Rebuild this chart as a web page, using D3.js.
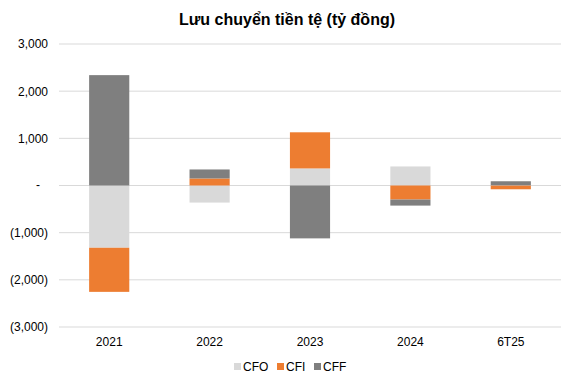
<!DOCTYPE html>
<html><head><meta charset="utf-8">
<script src="https://cdn.jsdelivr.net/npm/d3@7"></script>
<style>body{margin:0;background:#fff;} svg{display:block;font-family:"Liberation Sans",Arial,sans-serif;}</style>
</head><body>
<svg id="c" width="575" height="386"></svg>
<script>
const categories = ["2021","2022","2023","2024","6T25"];
const seriesNames = ["CFO","CFI","CFF"];
const CFO = [-1320, -362, 362, 404, 5];
const CFI = [-935, 149, 766, -298, -80];
const CFF = [2340, 191, -1121, -128, 85];
const yTicks = [-3000,-2000,-1000,0,1000,2000,3000];
const colors = {CFO:"#D9D9D9", CFI:"#ED7D31", CFF:"#7F7F7F"};

const data = categories.map((c,i)=>({cat:c, CFO:CFO[i], CFI:CFI[i], CFF:CFF[i]}));
const svg = d3.select("#c");
const x = d3.scaleBand().domain(categories).range([59,561]).paddingInner(0.6).paddingOuter(0.3);
const y = d3.scaleLinear().domain([-3000,3000]).range([327,44]);

const fmt = v => v===0 ? "-" : (v<0 ? "("+d3.format(",")(-v)+")" : d3.format(",")(v));

// gridlines
svg.append("g").selectAll("line").data(yTicks).join("line")
  .attr("x1",59).attr("x2",561).attr("y1",d=>y(d)).attr("y2",d=>y(d))
  .attr("stroke","#D9D9D9").attr("stroke-width",1);

const yAxis = svg.append("g").attr("transform","translate(59,0)")
  .call(d3.axisLeft(y).tickValues(yTicks).tickFormat(fmt).tickSize(0).tickPadding(11));
yAxis.select(".domain").remove();
yAxis.selectAll("text").attr("font-size","12px").attr("fill","#000").style("font-family","'Liberation Sans',Arial,sans-serif");
yAxis.selectAll(".tick").filter(d=>d===0).select("text").attr("x",-19).attr("dy","0.28em");

const stack = d3.stack().keys(seriesNames).offset(d3.stackOffsetDiverging);
const layers = stack(data);
svg.append("g").selectAll("g").data(layers).join("g").attr("fill",d=>colors[d.key])
  .selectAll("rect").data(d=>d).join("rect")
  .attr("x",d=>x(d.data.cat)).attr("width",x.bandwidth())
  .attr("y",d=>y(Math.max(d[0],d[1]))).attr("height",d=>Math.abs(y(d[0])-y(d[1])));

const xAxis = svg.append("g").attr("transform","translate(0,327)")
  .call(d3.axisBottom(x).tickSize(0).tickPadding(10));
xAxis.select(".domain").remove();
xAxis.selectAll("text").attr("font-size","12px").attr("fill","#000").style("font-family","'Liberation Sans',Arial,sans-serif");

svg.append("text").attr("x",287).attr("y",25).attr("text-anchor","middle")
  .attr("font-size","16px").attr("font-weight","bold").text("Lưu chuyển tiền tệ (tỷ đồng)");

const legX = [234, 277, 314];
const leg = svg.append("g").selectAll("g").data(seriesNames).join("g")
  .attr("transform",(d,i)=>`translate(${legX[i]},367)`);
leg.append("rect").attr("x",0).attr("y",-4).attr("width",7).attr("height",7).attr("fill",d=>colors[d]);
leg.append("text").attr("x",9).attr("y",4).attr("font-size","12px").text(d=>d);
</script>
</body></html>
